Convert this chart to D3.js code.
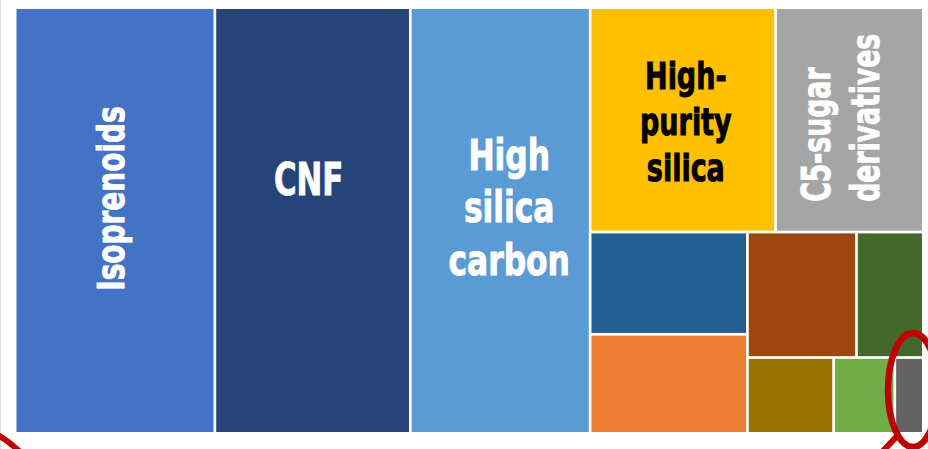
<!DOCTYPE html>
<html>
<head>
<meta charset="utf-8">
<script src="https://cdn.jsdelivr.net/npm/d3@7"></script>
<style>
  html, body { margin: 0; padding: 0; background: #fff; }
  svg { display: block; }
  .lbl { font-family: "Liberation Sans Narrow", "DejaVu Sans Condensed", "Roboto Condensed", sans-serif; font-weight: bold; }
</style>
</head>
<body>
<svg id="chart" width="928" height="449"></svg>
<script>
// category names (small tiles carry no label in the picture)
var names = ["Isoprenoids", "CNF", "High silica carbon", "High-purity silica", "C5-sugar derivatives",
             "", "", "", "", "", "", ""];
// share of total
var shares = [21.99, 21.52, 19.80, 10.76, 8.58, 4.16, 4.03, 3.54, 2.17, 1.69, 1.20, 0.56];
var colors = ["#4472C4", "#264478", "#5B9BD5", "#FFC000", "#A5A5A5",
              "#255E91", "#ED7D31", "#9E480E", "#43682B", "#997300", "#70AD47", "#636363"];

// how the tiles are nested: "x" = side by side, "y" = stacked
var nesting = ["x", 0, 1, 2, ["y", ["x", 3, 4], ["x", ["y", 5, 6], ["y", ["x", 7, 8], ["x", 9, 10, 11]]]]];

// label text as drawn (line breaks), styling kept separate
var labelLines = {
  0: ["Isoprenoids"],
  1: ["CNF"],
  2: ["High", "silica", "carbon"],
  3: ["High-", "purity", "silica"],
  4: ["C5-sugar", "derivatives"]
};
var labelStyle = {
  0: {size: 37, lh: 0, rot: true, anchor: "middle", ox: 22, oy: -4, sx: 0.84, fill: "#fff"},
  1: {size: 45, lh: 0, rot: false, anchor: "middle", ox: -4, oy: -42, sx: 0.76, fill: "#fff"},
  2: {size: 43, lh: 52.5, rot: false, anchor: "middle", ox: 9, oy: -14, sx: 0.81, fill: "#fff"},
  3: {size: 37.5, lh: 46.5, rot: false, anchor: "middle", ox: 3, oy: 1.5, sx: 0.8, fill: "#000"},
  4: {size: 38.5, lh: 49, rot: true, anchor: "start", ox: -82, oy: -8.5, sx: 0.77, fill: "#fff"}
};

function build(spec) {
  if (typeof spec === "number") return {idx: spec, name: names[spec], value: shares[spec]};
  return {dir: spec[0], children: spec.slice(1).map(build)};
}

var svg = d3.select("#chart");
var W = 905.5, H = 423;

var root = d3.hierarchy(build(nesting)).sum(d => d.value || 0);

d3.treemap()
  .size([W, H])
  .paddingInner(2.7)
  .tile(function(node, x0, y0, x1, y1) {
    (node.data.dir === "y" ? d3.treemapSlice : d3.treemapDice)(node, x0, y0, x1, y1);
  })(root);

// thin grey rule on the left edge
svg.append("line")
  .attr("x1", 0.5).attr("x2", 0.5).attr("y1", 0).attr("y2", 449)
  .attr("stroke", "#dcdcdc").attr("stroke-width", 1);

var g = svg.append("g").attr("transform", "translate(16.5,9)");

var leaf = g.selectAll("g.leaf")
  .data(root.leaves())
  .join("g")
  .attr("class", "leaf");

leaf.append("rect")
  .attr("x", d => d.x0)
  .attr("y", d => d.y0)
  .attr("width", d => d.x1 - d.x0)
  .attr("height", d => d.y1 - d.y0)
  .attr("fill", d => colors[d.data.idx]);

leaf.filter(d => labelLines[d.data.idx])
  .each(function(d) {
    var st = labelStyle[d.data.idx], lines = labelLines[d.data.idx];
    var cx = (d.x0 + d.x1) / 2, cy = (d.y0 + d.y1) / 2;
    var cap = 0.729 * st.size;
    var t = d3.select(this).append("g")
      .attr("transform", "translate(" + cx + "," + cy + ")" + (st.rot ? " rotate(-90)" : ""))
      .append("text")
      .attr("class", "lbl")
      .attr("transform", "scale(" + st.sx + ",1)")
      .attr("text-anchor", st.anchor)
      .attr("font-size", st.size)
      .attr("fill", st.fill)
      .attr("stroke", st.fill)
      .attr("stroke-width", 0.9);
    var n = lines.length;
    lines.forEach(function(s, i) {
      t.append("tspan")
        .attr("x", st.ox / st.sx)
        .attr("y", st.oy + (i - (n - 1) / 2) * st.lh + cap / 2)
        .text(s);
    });
  });

// red hand-drawn marks from the slide
var red = "#C00000";
svg.append("ellipse")
  .attr("cx", 913).attr("cy", 390).attr("rx", 25).attr("ry", 57)
  .attr("fill", "none").attr("stroke", red).attr("stroke-width", 6.5);
svg.append("path")
  .attr("d", "M882,452 L899,434")
  .attr("fill", "none").attr("stroke", red).attr("stroke-width", 6);
svg.append("path")
  .attr("d", "M-2,435 Q10,442 20,452")
  .attr("fill", "none").attr("stroke", red).attr("stroke-width", 6);
</script>
</body>
</html>
